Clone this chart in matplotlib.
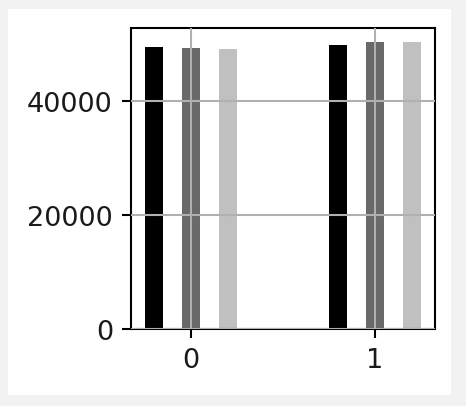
import matplotlib
matplotlib.use("Agg")
import matplotlib.pyplot as plt
import numpy as np
from matplotlib.patches import Rectangle

categories = [0, 1]
series_a = [49650, 49990]
series_b = [49350, 50400]
series_c = [49280, 50400]
colors = ["black", "dimgray", "silver"]

DPI = 186
fig = plt.figure(figsize=(466 / DPI, 407 / DPI), dpi=DPI)
fig.patch.set_facecolor("#f2f2f2")
bg = Rectangle((8 / 466, 1 - 396 / 407), (451 - 8) / 466, (396 - 10) / 407,
               transform=fig.transFigure, facecolor="white", edgecolor="none", zorder=-10)
fig.add_artist(bg)

ax = fig.add_axes([131 / 466, 1 - 330 / 407, (435 - 131) / 466, (330 - 29) / 407])
ax.set_zorder(5)
x = np.array(categories, dtype=float)
w = 0.1
for off, vals, c in zip([-0.2, 0.0, 0.2], [series_a, series_b, series_c], colors):
    ax.bar(x + off, vals, width=w, color=c)

ax.set_xticks(categories)
ax.set_yticks([0, 20000, 40000])
ax.tick_params(labelsize=10.5, labelcolor="#1a1a1a")
ax.set_axisbelow(False)
ax.grid(True)
fig.savefig("out.png", dpi=DPI, facecolor=fig.get_facecolor())
